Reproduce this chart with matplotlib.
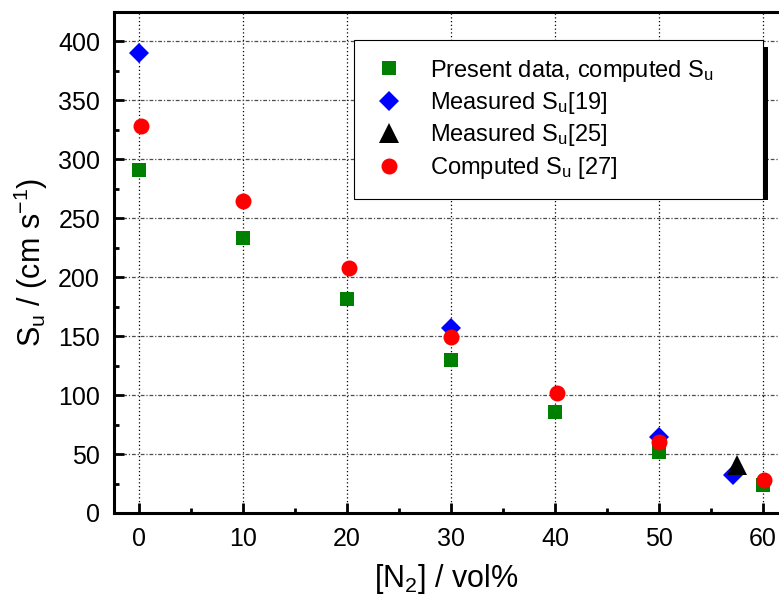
import matplotlib
matplotlib.use("Agg")
import matplotlib.pyplot as plt
from matplotlib.patches import Rectangle
from matplotlib.ticker import MultipleLocator

plt.rcParams['font.family'] = ['Liberation Sans', 'DejaVu Sans']
plt.rcParams['mathtext.fontset'] = 'custom'
plt.rcParams['mathtext.rm'] = 'Liberation Sans'
plt.rcParams['mathtext.it'] = 'Liberation Sans:italic'
plt.rcParams['mathtext.bf'] = 'Liberation Sans:bold'

# Data
present_x = [0, 10, 20, 30, 40, 50, 60]
present_y = [291, 233, 181, 130, 86, 52, 24]
meas19_x = [0, 30, 50, 57.1]
meas19_y = [390, 157, 64, 32]
meas25_x = [57.5]
meas25_y = [41]
comp27_x = [0.2, 10, 20.2, 30, 40.2, 50, 60.1]
comp27_y = [328, 264, 208, 149, 102, 60, 28]

labels = [r"Present data, computed S$_\mathrm{u}$",
          r"Measured S$_\mathrm{u}$[19]",
          r"Measured S$_\mathrm{u}$[25]",
          r"Computed S$_\mathrm{u}$ [27]"]

W, H = 779, 603
fig = plt.figure(figsize=(W / 100, H / 100), dpi=100)
ax = fig.add_axes([114 / W, 1 - 513 / H, (W - 114) / W, (513 - 12) / H])

ax.set_xlim(-2.4, 61.54)
ax.set_ylim(0, 424.6)

ax.xaxis.set_major_locator(MultipleLocator(10))
ax.xaxis.set_minor_locator(MultipleLocator(5))
ax.yaxis.set_major_locator(MultipleLocator(50))
ax.yaxis.set_minor_locator(MultipleLocator(25))

ax.plot(present_x, present_y, linestyle='none', marker='s', ms=10, mew=0,
        color='#008000', label=labels[0], zorder=3)
ax.plot(meas19_x, meas19_y, linestyle='none', marker='D', ms=10, mew=0,
        color='#0000ff', label=labels[1], zorder=4)
ax.plot(meas25_x, meas25_y, linestyle='none', marker='^', ms=14, mew=0,
        color='black', label=labels[2], zorder=5)
ax.plot(comp27_x, comp27_y, linestyle='none', marker='o', ms=11.5, mew=0,
        color='#ff0000', label=labels[3], zorder=6)

for s in ['left', 'bottom', 'top']:
    ax.spines[s].set_linewidth(2.2)
ax.spines['right'].set_visible(False)

ax.tick_params(which='both', direction='in', top=False, right=False, width=2)
ax.tick_params(which='major', length=7, labelsize=18, pad=10)
ax.tick_params(which='minor', length=3.5)

ax.set_axisbelow(True)
ax.xaxis.grid(True, which='major', color='black', linestyle=(0, (1, 2)), linewidth=0.9)
ax.yaxis.grid(True, which='major', color='0.3', linestyle=(0, (3, 1.5, 1, 1.5)), linewidth=0.9)

ax.set_xlabel(r"[N$_2$] / vol%", fontsize=22, labelpad=8)
ax.set_ylabel(r"S$_\mathrm{u}$ / (cm s$^{-1}$)", fontsize=22, labelpad=6)

# legend frame in axes fraction
axw, axh = W - 114, 513 - 12
lx0 = (354 - 114) / axw
lx1 = (763 - 114) / axw
ly1 = (513 - 40) / axh
leg = ax.legend(loc='upper left', bbox_to_anchor=(lx0, ly1 - 0.5, lx1 - lx0, 0.5),
                mode='expand', borderaxespad=0, fontsize=17, frameon=True,
                fancybox=False, edgecolor='black', framealpha=1,
                handlelength=1.5, handletextpad=0.95, borderpad=0.75,
                labelspacing=0.27, numpoints=1)
leg.get_frame().set_linewidth(0.8)
leg.set_zorder(10)

fig.canvas.draw()
bb = leg.get_window_extent()
shadow = Rectangle((bb.x1, bb.y0 - 1), 5, bb.height - 6, transform=None,
                   facecolor='black', edgecolor='none', zorder=9)
fig.patches.append(shadow)

fig.savefig("out.png", dpi=100)
